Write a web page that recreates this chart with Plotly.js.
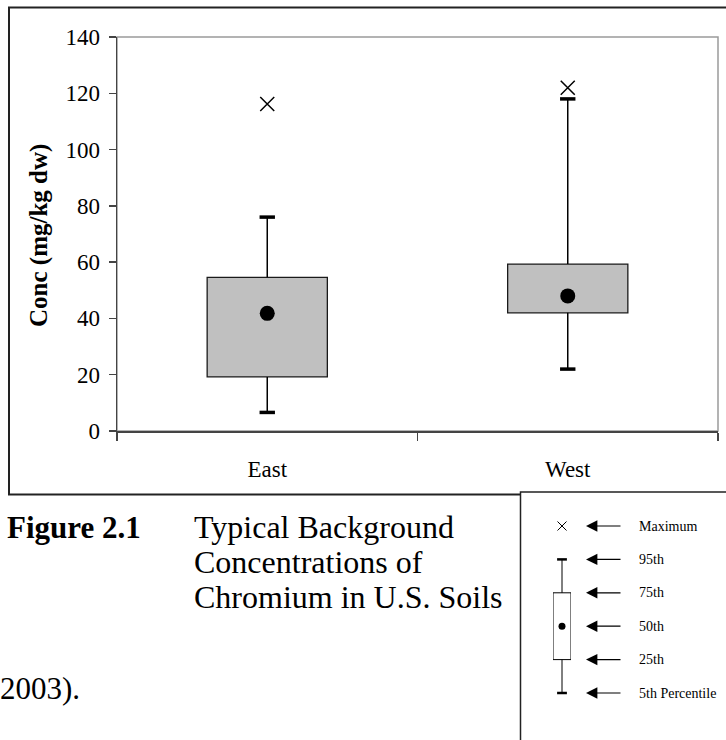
<!DOCTYPE html>
<html>
<head>
<meta charset="utf-8">
<script src="https://cdn.plot.ly/plotly-3.0.1.min.js"></script>
<style>
  html, body { margin: 0; padding: 0; background: #fff; }
  #chart { width: 726px; height: 740px; }
</style>
</head>
<body>
<div id="chart"></div>
<script>
// ---- data ----
const categories = ["East", "West"];
const p5Values = [6.6, 22.0];
const q1Values = [19.2, 42.0];
const medianValues = [41.8, 48.0];
const q3Values = [54.6, 59.3];
const p95Values = [76.0, 118.0];
const maxValues = [116.2, 122.0];
const yTickValues = [0, 20, 40, 60, 80, 100, 120, 140];

// legend key (schematic levels, bottom to top)
const keyLevels = [0, 1, 2, 3, 4, 5];
const keyLabels = ["5th Percentile", "25th", "50th", "75th", "95th", "Maximum"];

const SERIF = "Liberation Serif, Times New Roman, serif";
const W = 726, H = 740;
const px = v => v / W;
const py = v => 1 - v / H;

// ---- main box plot traces ----
const boxTrace = {
  type: "bar", x: categories,
  y: q3Values.map((v, i) => v - q1Values[i]),
  base: q1Values, width: 0.4,
  marker: { color: "#c0c0c0", line: { color: "#1a1a1a", width: 1.3 } },
  xaxis: "x", yaxis: "y", hoverinfo: "skip", showlegend: false
};
const wx = [], wy = [];
categories.forEach((c, i) => {
  wx.push(c, c, null, c, c, null);
  wy.push(q1Values[i], p5Values[i], null, q3Values[i], p95Values[i], null);
});
const whiskers = {
  type: "scatter", mode: "lines", x: wx, y: wy,
  line: { color: "#000", width: 1.5 }, showlegend: false, hoverinfo: "skip"
};
const caps = {
  type: "scatter", mode: "markers",
  x: categories.concat(categories), y: p5Values.concat(p95Values),
  marker: { symbol: "line-ew", size: 11, color: "#000", line: { color: "#000", width: 3.5 } },
  showlegend: false, hoverinfo: "skip"
};
const medians = {
  type: "scatter", mode: "markers", x: categories, y: medianValues,
  marker: { symbol: "circle", size: 15, color: "#000" }, showlegend: false
};
const maxima = {
  type: "scatter", mode: "markers", x: categories, y: maxValues,
  marker: { symbol: "x-thin", size: 14, color: "#000", line: { color: "#000", width: 1.5 } },
  showlegend: false
};

// ---- key (legend) schematic on its own small axes ----
const keyBox = {
  type: "bar", x: [0], y: [keyLevels[3] - keyLevels[1]], base: [keyLevels[1]], width: 1,
  marker: { color: "#fff", line: { color: "#000", width: 1 } },
  xaxis: "x2", yaxis: "y2", showlegend: false, hoverinfo: "skip", cliponaxis: false
};
const keyWhisk = {
  type: "scatter", mode: "lines",
  x: [0, 0, null, 0, 0],
  y: [keyLevels[0], keyLevels[1], null, keyLevels[3], keyLevels[4]],
  line: { color: "#000", width: 1 }, xaxis: "x2", yaxis: "y2", showlegend: false,
  hoverinfo: "skip", cliponaxis: false
};
const keyCaps = {
  type: "scatter", mode: "markers", x: [0, 0], y: [keyLevels[0], keyLevels[4]],
  marker: { symbol: "line-ew", size: 7, color: "#000", line: { color: "#000", width: 2.5 } },
  xaxis: "x2", yaxis: "y2", showlegend: false, hoverinfo: "skip", cliponaxis: false
};
const keyMed = {
  type: "scatter", mode: "markers", x: [0], y: [keyLevels[2]],
  marker: { symbol: "circle", size: 7, color: "#000" },
  xaxis: "x2", yaxis: "y2", showlegend: false, hoverinfo: "skip", cliponaxis: false
};
const keyMax = {
  type: "scatter", mode: "markers", x: [0], y: [keyLevels[5]],
  marker: { symbol: "x-thin", size: 9, color: "#000", line: { color: "#000", width: 1 } },
  xaxis: "x2", yaxis: "y2", showlegend: false, hoverinfo: "skip", cliponaxis: false
};

// ---- annotations ----
const annotations = [
  { text: "<b>Conc (mg/kg dw)</b>", xref: "paper", yref: "paper", x: px(39), y: py(236),
    textangle: -90, showarrow: false, xanchor: "center", yanchor: "middle",
    font: { family: SERIF, size: 25, color: "#000" } },
  { text: "<b>Figure 2.1</b>", xref: "paper", yref: "paper", x: px(5), y: py(527),
    showarrow: false, xanchor: "left", yanchor: "middle",
    font: { family: SERIF, size: 31, color: "#000" } },
  { text: "Typical Background", xref: "paper", yref: "paper", x: px(192), y: py(527),
    showarrow: false, xanchor: "left", yanchor: "middle",
    font: { family: SERIF, size: 32, color: "#000" } },
  { text: "Concentrations of", xref: "paper", yref: "paper", x: px(192), y: py(562),
    showarrow: false, xanchor: "left", yanchor: "middle",
    font: { family: SERIF, size: 32, color: "#000" } },
  { text: "Chromium in U.S. Soils", xref: "paper", yref: "paper", x: px(192), y: py(597),
    showarrow: false, xanchor: "left", yanchor: "middle",
    font: { family: SERIF, size: 32, color: "#000" } },
  { text: "2003).", xref: "paper", yref: "paper", x: px(-2), y: py(688),
    showarrow: false, xanchor: "left", yanchor: "middle",
    font: { family: SERIF, size: 31, color: "#000" } }
];
keyLevels.forEach((lv, i) => {
  annotations.push({
    text: "", xref: "paper", yref: "y2", x: px(586), y: lv,
    ax: 36, ay: 0, showarrow: true, arrowhead: 2, arrowsize: 1.9, arrowwidth: 1.2, arrowcolor: "#000"
  });
  annotations.push({
    text: keyLabels[i], xref: "paper", yref: "y2", x: px(637), y: lv,
    showarrow: false, xanchor: "left", yanchor: "middle",
    font: { family: SERIF, size: 14, color: "#000" }
  });
});

const shapes = [
  // outer frame
  { type: "rect", xref: "paper", yref: "paper", x0: px(9), x1: px(760), y0: py(494.5), y1: py(7.5),
    line: { color: "#222", width: 2 }, fillcolor: "rgba(0,0,0,0)", layer: "below" },
  // key box
  { type: "rect", xref: "paper", yref: "paper", x0: px(520.5), x1: px(760), y0: py(800), y1: py(492),
    line: { color: "#222", width: 1.5 }, fillcolor: "#fff", layer: "below" },
  // plot area border (top/right gray)
  { type: "rect", xref: "x domain", yref: "y domain", x0: 0, x1: 1, y0: 0, y1: 1,
    line: { color: "#9a9a9a", width: 1.5 }, fillcolor: "rgba(0,0,0,0)", layer: "below" }
];

const layout = {
  width: W, height: H,
  margin: { l: 0, r: 0, t: 0, b: 0 },
  paper_bgcolor: "#fff", plot_bgcolor: "rgba(0,0,0,0)",
  showlegend: false,
  barmode: "overlay",
  xaxis: {
    domain: [px(117), px(718)], range: [-0.5, 1.5], type: "category",
    showline: true, linecolor: "#444", linewidth: 1.5,
    ticks: "outside", tickson: "boundaries", ticklen: 8, tickwidth: 1.3, tickcolor: "#444",
    ticklabelstandoff: 17,
    showgrid: false, zeroline: false, fixedrange: true,
    tickfont: { family: SERIF, size: 23, color: "#000" }
  },
  yaxis: {
    domain: [py(431), py(37)], range: [0, 140],
    tickvals: yTickValues, ticktext: yTickValues.map(String),
    showline: true, linecolor: "#444", linewidth: 1.5,
    ticks: "outside", ticklen: 7, tickwidth: 1.3, tickcolor: "#444",
    ticklabelstandoff: 4,
    showgrid: false, zeroline: false, fixedrange: true,
    tickfont: { family: SERIF, size: 23, color: "#000" }
  },
  xaxis2: {
    domain: [px(553), px(571)], range: [-0.5, 0.5], anchor: "y2",
    visible: false, fixedrange: true
  },
  yaxis2: {
    domain: [py(693), py(526)], range: [0, 5], anchor: "x2",
    visible: false, fixedrange: true
  },
  shapes: shapes,
  annotations: annotations
};

Plotly.newPlot("chart",
  [boxTrace, whiskers, caps, medians, maxima, keyBox, keyWhisk, keyCaps, keyMed, keyMax],
  layout, { staticPlot: true, displayModeBar: false });
</script>
</body>
</html>
